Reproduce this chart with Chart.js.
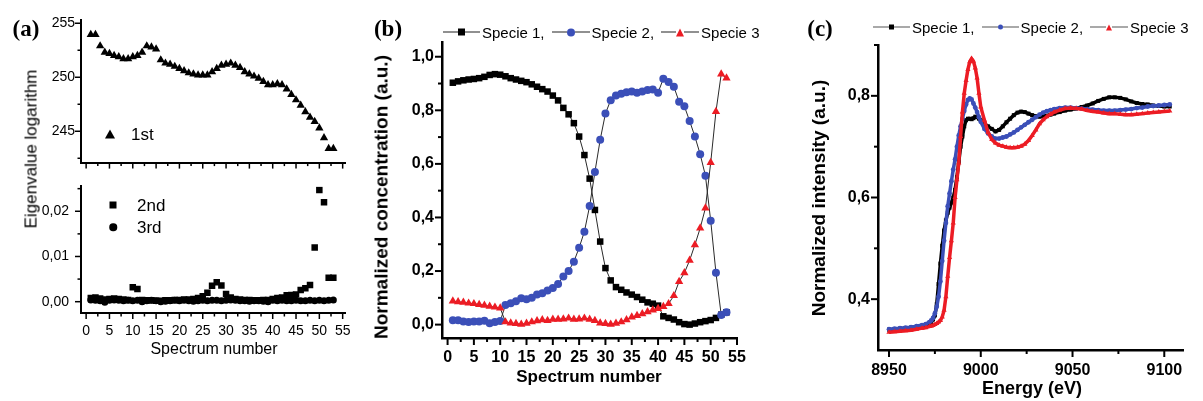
<!DOCTYPE html>
<html>
<head>
<meta charset="utf-8">
<title>PCA / MCR panels</title>
<script src="https://cdn.jsdelivr.net/npm/chart.js@4/dist/chart.umd.min.js"></script>
<style>
  html, body { margin: 0; padding: 0; background: #fff; }
  #page { position: relative; width: 1203px; height: 401px; overflow: hidden; font-family: 'Liberation Sans', Arial, sans-serif; color: #000; }
  canvas { position: absolute; }
  .txt { position: absolute; white-space: nowrap; line-height: 1; }
  .ct { transform: translate(-50%, -50%); }
  .vt { transform: translate(-50%, -50%) rotate(-90deg); }
  .panel { font-family: 'Liberation Serif', 'Times New Roman', serif; font-weight: bold; font-size: 23px; }
  .legend { position: absolute; display: flex; align-items: center; font-size: 15px; line-height: 1; white-space: nowrap; transform: translateY(-50%); }
  .sym { display: inline-flex; align-items: center; margin-right: 2px; }
  .dash { display: inline-block; width: 13px; height: 1px; }
  .mk { display: inline-block; flex: none; }
</style>
</head>
<body>
<div id="page">
  <canvas id="chartA1" width="360" height="172" style="left:0;top:0"></canvas>
  <canvas id="chartA2" width="360" height="180" style="left:0;top:172px"></canvas>
  <canvas id="chartB" width="370" height="372" style="left:390px;top:0"></canvas>
  <canvas id="chartC" width="373" height="380" style="left:830px;top:0"></canvas>

  <div class="txt panel ct" style="left:26px;top:28px">(a)</div>
  <div class="txt panel ct" style="left:388px;top:28px">(b)</div>
  <div class="txt panel ct" style="left:820px;top:28px">(c)</div>

  <div class="txt ct" style="left:214px;top:349px;font-size:16px">Spectrum number</div>
  <div class="txt vt" style="left:31px;top:149px;font-size:17px">Eigenvalue logarithm</div>

  <div class="txt ct" style="left:589px;top:376px;font-size:17px;font-weight:bold">Spectrum number</div>
  <div class="txt vt" style="left:381px;top:197px;font-size:19px;font-weight:bold">Normalized concentration (a.u.)</div>

  <div class="txt ct" style="left:1032px;top:388px;font-size:18px;font-weight:bold">Energy (eV)</div>
  <div class="txt vt" style="left:818px;top:198px;font-size:19px;font-weight:bold">Normalized intensity (a.u.)</div>

  <div id="legendA"></div>
  <div class="legend" id="legendB" style="left:443px;top:32px"></div>
  <div class="legend" id="legendC" style="left:873px;top:27px"></div>
</div>

<script>
// ---- data ----
const spectrumNumbers = [1, 2, 3, 4, 5, 6, 7, 8, 9, 10, 11, 12, 13, 14, 15, 16, 17, 18, 19, 20,
  21, 22, 23, 24, 25, 26, 27, 28, 29, 30, 31, 32, 33, 34, 35, 36, 37, 38, 39, 40,
  41, 42, 43, 44, 45, 46, 47, 48, 49, 50, 51, 52, 53]

// (a) eigenvalues
const eig1st = [253.96, 253.96, 252.9, 252.3, 252.2, 252.0, 251.9, 251.7, 251.7, 251.9,
  252.0, 252.3, 252.9, 252.8, 252.6, 251.6, 251.3, 251.2, 251.0, 250.8,
  250.6, 250.4, 250.3, 250.2, 250.2, 250.2, 250.5, 250.8, 251.1, 251.2,
  251.3, 251.1, 250.9, 250.5, 250.3, 250.1, 249.9, 249.6, 249.3, 249.3,
  249.4, 249.3, 248.9, 248.4, 247.9, 247.4, 246.8, 246.3, 245.9, 245.3,
  244.4, 243.4, 243.4]
const eig2nd = [0.0008, 0.0009, 0.0007, 0.0005, 0.0006, 0.0007, 0.0006, 0.0005, 0.0004, 0.0032,
  0.0028, 0.0004, 0.0003, 0.0003, 0.0002, 0.0002, 0.0003, 0.0003, 0.0004, 0.0004,
  0.0005, 0.0005, 0.0006, 0.0008, 0.0012, 0.0020, 0.0035, 0.0043, 0.0036, 0.0017,
  0.0009, 0.0006, 0.0005, 0.0004, 0.0004, 0.0003, 0.0003, 0.0004, 0.0004, 0.0006,
  0.0008, 0.0009, 0.0014, 0.0015, 0.0016, 0.0026, 0.0030, 0.0037, 0.0120, 0.0247,
  0.0220, 0.0053, 0.0053]
const eig3rd = [0.0004, 0.0003, 0.0002, -0.0001, 0.0003, 0.0004, 0.0003, 0.0002, 0.0003, 0.0002,
  0.0003, 0.0000, 0.0002, 0.0003, 0.0002, 0.0000, 0.0001, 0.0002, 0.0003, 0.0002,
  0.0003, 0.0002, 0.0001, 0.0002, 0.0003, 0.0002, 0.0003, 0.0003, 0.0002, 0.0003,
  0.0004, 0.0003, 0.0002, 0.0002, 0.0001, 0.0002, 0.0002, 0.0001, 0.0000, 0.0003,
  0.0002, 0.0003, 0.0002, 0.0002, 0.0003, 0.0002, 0.0002, 0.0003, 0.0002, 0.0003,
  0.0002, 0.0003, 0.0004]

// (b) normalized concentrations
const specie1Conc = [0.903, 0.908, 0.912, 0.915, 0.917, 0.920, 0.925, 0.932, 0.935, 0.933,
  0.927, 0.920, 0.915, 0.910, 0.905, 0.897, 0.888, 0.879, 0.870, 0.855,
  0.837, 0.809, 0.785, 0.752, 0.702, 0.633, 0.545, 0.428, 0.310, 0.211,
  0.165, 0.140, 0.130, 0.120, 0.112, 0.103, 0.093, 0.083, 0.078, 0.071,
  0.031, 0.025, 0.019, 0.009, 0.002, 0.000, 0.004, 0.009, 0.013, 0.017,
  0.025, 0.037, 0.046]
const specie2Conc = [0.016, 0.016, 0.012, 0.010, 0.012, 0.012, 0.014, 0.005, 0.010, 0.013,
  0.073, 0.080, 0.087, 0.098, 0.095, 0.100, 0.112, 0.117, 0.127, 0.137,
  0.152, 0.180, 0.200, 0.235, 0.287, 0.347, 0.443, 0.570, 0.690, 0.788,
  0.838, 0.855, 0.862, 0.867, 0.870, 0.866, 0.870, 0.876, 0.878, 0.866,
  0.918, 0.906, 0.888, 0.832, 0.815, 0.760, 0.702, 0.636, 0.556, 0.388,
  0.194, 0.036, 0.046]
const specie3Conc = [0.088, 0.085, 0.083, 0.080, 0.078, 0.075, 0.072, 0.068, 0.065, 0.062,
  0.010, 0.006, 0.004, 0.001, 0.005, 0.010, 0.014, 0.018, 0.015, 0.020,
  0.020, 0.021, 0.024, 0.020, 0.021, 0.024, 0.020, 0.015, 0.006, 0.004,
  0.001, 0.005, 0.010, 0.018, 0.028, 0.034, 0.040, 0.048, 0.054, 0.060,
  0.067, 0.078, 0.108, 0.161, 0.193, 0.240, 0.298, 0.360, 0.435, 0.605,
  0.795, 0.935, 0.920]

// (c) spectra
const energyEv = [8950, 8953, 8956, 8959, 8962, 8965, 8968, 8970,
  8972, 8973, 8974, 8975, 8976, 8977, 8978, 8979, 8980, 8981, 8982, 8983, 8984, 8985,
  8986, 8987, 8988, 8989, 8990, 8991, 8992, 8993, 8994, 8995, 8996, 8997, 8998, 8999,
  9000, 9002, 9004, 9006, 9008, 9010, 9012, 9014, 9016, 9018, 9020, 9022, 9024, 9026,
  9028, 9030, 9032, 9034, 9036, 9038, 9040, 9043, 9046, 9049, 9052, 9055, 9058, 9061,
  9064, 9067, 9070, 9073, 9076, 9079, 9082, 9085, 9088, 9091, 9094, 9097, 9100, 9103]
const specie1Abs = [0.340, 0.341, 0.342, 0.343, 0.344, 0.345, 0.347, 0.349,
  0.352, 0.355, 0.360, 0.368, 0.390, 0.430, 0.470, 0.505, 0.535, 0.555, 0.570, 0.580, 0.590, 0.600,
  0.615, 0.640, 0.670, 0.700, 0.720, 0.740, 0.752, 0.755, 0.755, 0.754, 0.756, 0.759, 0.758, 0.755,
  0.752, 0.745, 0.740, 0.735, 0.730, 0.733, 0.740, 0.748, 0.755, 0.762, 0.767, 0.769, 0.768, 0.765,
  0.762, 0.760, 0.759, 0.760, 0.761, 0.763, 0.765, 0.768, 0.771, 0.773, 0.775, 0.778, 0.781, 0.785,
  0.790, 0.794, 0.797, 0.797, 0.796, 0.793, 0.789, 0.786, 0.784, 0.783, 0.781, 0.780, 0.779, 0.779]
const specie2Abs = [0.341, 0.342, 0.343, 0.344, 0.345, 0.347, 0.349, 0.351,
  0.355, 0.358, 0.363, 0.372, 0.385, 0.405, 0.435, 0.475, 0.515, 0.550, 0.583, 0.608, 0.632, 0.655,
  0.675, 0.700, 0.722, 0.740, 0.755, 0.770, 0.783, 0.792, 0.795, 0.793, 0.785, 0.777, 0.768, 0.758,
  0.749, 0.735, 0.726, 0.720, 0.716, 0.716, 0.718, 0.720, 0.724, 0.728, 0.733, 0.738, 0.743, 0.748,
  0.753, 0.758, 0.763, 0.767, 0.770, 0.772, 0.774, 0.776, 0.777, 0.777, 0.776, 0.775, 0.774, 0.773,
  0.772, 0.771, 0.771, 0.771, 0.772, 0.773, 0.774, 0.776, 0.777, 0.779, 0.780, 0.781, 0.782, 0.783]
const specie3Abs = [0.335, 0.336, 0.337, 0.338, 0.339, 0.341, 0.343, 0.344,
  0.346, 0.347, 0.348, 0.350, 0.352, 0.355, 0.358, 0.365, 0.378, 0.405, 0.445, 0.482, 0.515, 0.550,
  0.600, 0.635, 0.668, 0.720, 0.768, 0.805, 0.830, 0.852, 0.867, 0.873, 0.868, 0.855, 0.835, 0.805,
  0.778, 0.752, 0.728, 0.714, 0.707, 0.703, 0.701, 0.699, 0.698, 0.698, 0.699, 0.701, 0.705, 0.712,
  0.722, 0.733, 0.745, 0.753, 0.759, 0.764, 0.768, 0.772, 0.775, 0.776, 0.775, 0.774, 0.771, 0.769,
  0.768, 0.766, 0.765, 0.765, 0.764, 0.763, 0.763, 0.764, 0.765, 0.766, 0.767, 0.768, 0.769, 0.770]

// ---- tick values ----
const spectrumTicks = [0, 5, 10, 15, 20, 25, 30, 35, 40, 45, 50, 55]
const spectrumMinor = [2.5, 7.5, 12.5, 17.5, 22.5, 27.5, 32.5, 37.5, 42.5, 47.5, 52.5]
const eigTopTicks = [245, 250, 255]
const eigTopMinor = [242.5, 247.5, 252.5]
const eigLowTicks = [0, 0.01, 0.02]
const eigLowMinor = [0.005, 0.015, 0.025]
const concTicks = [0, 0.2, 0.4, 0.6, 0.8, 1.0]
const concMinor = [0.1, 0.3, 0.5, 0.7, 0.9]
const energyTicks = [8950, 9000, 9050, 9100]
const energyMinor = [8975, 9025, 9075]
const intensityTicks = [0.4, 0.6, 0.8]
const intensityMinor = [0.5, 0.7, 0.9]

const speciesNames = ['Specie 1', 'Specie 2', 'Specie 3']
const speciesColors = ['#000000', '#3b4fb8', '#ec1c24']
const speciesMarkers = ['rect', 'circle', 'triangle']

Chart.defaults.font.family = "'Liberation Sans', Arial, sans-serif"
Chart.defaults.color = '#000'

const toPoints = (xs, ys) => xs.map((x, i) => ({ x, y: ys[i] }))
const commaFmt = digits => v => Number(v).toFixed(digits).replace('.', ',')

// outward tick marks, major and minor
function tickMarks(spec) {
  return {
    id: 'tickMarks',
    afterDraw(chart) {
      const ctx = chart.ctx
      ctx.save()
      ctx.strokeStyle = '#000'
      for (const [id, s] of Object.entries(spec)) {
        const scale = chart.scales[id]
        ctx.lineWidth = s.width
        const draw = (values, len) => values.forEach(v => {
          ctx.beginPath()
          if (scale.isHorizontal()) {
            const px = scale.getPixelForValue(v)
            ctx.moveTo(px, scale.top)
            ctx.lineTo(px, scale.top + len)
          } else {
            const py = scale.getPixelForValue(v)
            ctx.moveTo(scale.right, py)
            ctx.lineTo(scale.right - len, py)
          }
          ctx.stroke()
        })
        draw(s.major, s.majorLen)
        draw(s.minor, s.minorLen)
      }
      ctx.restore()
    }
  }
}

function axis(o) {
  return {
    type: 'linear',
    min: o.min,
    max: o.max,
    afterBuildTicks: s => { s.ticks = o.ticks.map(v => ({ value: v })) },
    afterFit: s => {
      if (o.width != null) s.width = o.width
      if (o.height != null) s.height = o.height
    },
    ticks: {
      display: o.labels !== false,
      autoSkip: false,
      maxRotation: 0,
      color: '#000',
      font: o.font,
      padding: o.pad || 0,
      callback: o.fmt || (v => v)
    },
    grid: { display: false, drawTicks: true, tickLength: o.tl || 0 },
    border: { display: true, color: '#000', width: o.bw }
  }
}

const baseOptions = (padding) => ({
  responsive: false,
  animation: false,
  layout: { padding },
  plugins: { legend: { display: false }, tooltip: { enabled: false } }
})

// ---- (a) upper: first eigenvalue ----
const fontA = { size: 14 }
new Chart(document.getElementById('chartA1'), {
  type: 'scatter',
  data: {
    datasets: [{
      data: toPoints(spectrumNumbers, eig1st),
      pointStyle: 'triangle', pointRadius: 4.8,
      backgroundColor: '#000', borderColor: '#000', borderWidth: 0
    }]
  },
  options: {
    ...baseOptions({ top: 20, right: 15, left: 0, bottom: 0 }),
    scales: {
      x: axis({ min: -1.1, max: 55.5, ticks: spectrumTicks, height: 5, labels: false, bw: 2 }),
      y: axis({ min: 242.1, max: 255.3, ticks: eigTopTicks, width: 81, font: fontA, tl: 5, pad: 1, bw: 2 })
    }
  },
  plugins: [tickMarks({
    x: { major: spectrumTicks, minor: spectrumMinor, majorLen: 6, minorLen: 3.5, width: 1.5 },
    y: { major: eigTopTicks, minor: eigTopMinor, majorLen: 6, minorLen: 3.5, width: 1.5 }
  })]
})

// ---- (a) lower: 2nd and 3rd eigenvalues ----
new Chart(document.getElementById('chartA2'), {
  type: 'scatter',
  data: {
    datasets: [{
      data: toPoints(spectrumNumbers, eig2nd),
      pointStyle: 'rect', pointRadius: 4.6,
      backgroundColor: '#000', borderColor: '#000', borderWidth: 0
    }, {
      data: toPoints(spectrumNumbers, eig3rd),
      pointStyle: 'circle', pointRadius: 3.5,
      backgroundColor: '#000', borderColor: '#000', borderWidth: 0
    }]
  },
  options: {
    ...baseOptions({ top: 6, right: 15, left: 0, bottom: 0 }),
    scales: {
      x: axis({ min: -1.1, max: 55.5, ticks: spectrumTicks, height: 39, font: fontA, tl: 6, pad: 4, bw: 2 }),
      y: axis({ min: -0.0025, max: 0.0255, ticks: eigLowTicks, width: 81, font: fontA, tl: 6, pad: 6, bw: 2, fmt: commaFmt(2) })
    }
  },
  plugins: [tickMarks({
    x: { major: spectrumTicks, minor: spectrumMinor, majorLen: 6, minorLen: 3.5, width: 1.5 },
    y: { major: eigLowTicks, minor: eigLowMinor, majorLen: 6, minorLen: 3.5, width: 1.5 }
  })]
})

// ---- (b) concentrations ----
const concSeries = [specie1Conc, specie2Conc, specie3Conc]
const fontB = { size: 16, weight: 'bold' }
new Chart(document.getElementById('chartB'), {
  type: 'scatter',
  data: {
    datasets: concSeries.map((vals, i) => ({
      label: speciesNames[i],
      data: toPoints(spectrumNumbers, vals),
      showLine: true,
      borderColor: '#2a2a2a',
      borderWidth: 1,
      pointStyle: speciesMarkers[i],
      pointRadius: [4.6, 4, 4.8][i],
      pointBackgroundColor: speciesColors[i],
      pointBorderColor: speciesColors[i],
      pointBorderWidth: 0,
      order: 2 - i
    }))
  },
  options: {
    ...baseOptions({ top: 42, right: 23, left: 0, bottom: 0 }),
    scales: {
      x: axis({ min: -1.06, max: 55, ticks: spectrumTicks, height: 34, font: fontB, tl: 7, pad: 3, bw: 2.5 }),
      y: axis({ min: -0.05, max: 1.055, ticks: concTicks, width: 52, font: fontB, tl: 6, pad: 2, bw: 2.5, fmt: commaFmt(1) })
    }
  },
  plugins: [tickMarks({
    x: { major: spectrumTicks, minor: spectrumMinor, majorLen: 7, minorLen: 4, width: 2 },
    y: { major: concTicks, minor: concMinor, majorLen: 7, minorLen: 4, width: 2 }
  })]
})

// ---- (c) spectra ----
const absSeries = [specie1Abs, specie2Abs, specie3Abs]
const fontC = { size: 16, weight: 'bold' }
new Chart(document.getElementById('chartC'), {
  type: 'scatter',
  data: {
    datasets: absSeries.map((vals, i) => ({
      label: speciesNames[i],
      data: toPoints(energyEv, vals),
      showLine: true,
      borderColor: speciesColors[i],
      borderWidth: 3.5,
      pointStyle: speciesMarkers[i],
      pointRadius: [2.8, 2.4, 3][i],
      pointBackgroundColor: speciesColors[i],
      pointBorderColor: speciesColors[i],
      pointBorderWidth: 0,
      order: 2 - i
    }))
  },
  options: {
    ...baseOptions({ top: 45, right: 20, left: 0, bottom: 0 }),
    scales: {
      x: axis({ min: 8944, max: 9110.2, ticks: energyTicks, height: 30, font: fontC, tl: 6, pad: 5, bw: 2.5 }),
      y: axis({ min: 0.3, max: 0.9, ticks: intensityTicks, width: 48, font: fontC, tl: 7, pad: 1, bw: 2.5, fmt: commaFmt(1) })
    }
  },
  plugins: [tickMarks({
    x: { major: energyTicks, minor: energyMinor, majorLen: 7, minorLen: 4, width: 2 },
    y: { major: intensityTicks, minor: intensityMinor, majorLen: 7, minorLen: 4, width: 2 }
  })]
})

// ---- legends ----
function markerEl(kind, color, size) {
  const el = document.createElement('span')
  el.className = 'mk'
  if (kind === 'triangle') {
    el.style.width = '0'
    el.style.height = '0'
    el.style.borderLeft = (size * 0.6) + 'px solid transparent'
    el.style.borderRight = (size * 0.6) + 'px solid transparent'
    el.style.borderBottom = size + 'px solid ' + color
  } else {
    el.style.width = size + 'px'
    el.style.height = size + 'px'
    el.style.background = color
    if (kind === 'circle') el.style.borderRadius = '50%'
  }
  return el
}

function buildLegend(box, sizes, dashColor, dashWidth) {
  speciesNames.forEach((name, i) => {
    const sym = document.createElement('span')
    sym.className = 'sym'
    const d1 = document.createElement('span')
    d1.className = 'dash'
    d1.style.background = dashColor
    d1.style.width = dashWidth + 'px'
    const d2 = d1.cloneNode()
    sym.appendChild(d1)
    sym.appendChild(markerEl(speciesMarkers[i], speciesColors[i], sizes[i]))
    sym.appendChild(d2)
    box.appendChild(sym)
    const t = document.createElement('span')
    t.textContent = name + (i < speciesNames.length - 1 ? ',' : '')
    t.style.marginRight = i < speciesNames.length - 1 ? '7px' : '0'
    box.appendChild(t)
  })
}
buildLegend(document.getElementById('legendB'), [7, 8, 8], '#222', 15)
buildLegend(document.getElementById('legendC'), [5, 5, 6], '#555', 16)

// (a) legend entries
const legendA = document.getElementById('legendA')
;[['triangle', '1st', 110, 134, 131, 9], ['rect', '2nd', 113, 205, 137, 7], ['circle', '3rd', 113, 227, 137, 7.5]]
  .forEach(([kind, label, mx, my, tx, size]) => {
    const m = markerEl(kind, '#000', size)
    m.style.position = 'absolute'
    m.style.left = mx + 'px'
    m.style.top = my + 'px'
    m.style.transform = 'translate(-50%, -50%)'
    legendA.appendChild(m)
    const t = document.createElement('div')
    t.className = 'txt'
    t.style.left = tx + 'px'
    t.style.top = my + 'px'
    t.style.fontSize = '17px'
    t.style.transform = 'translateY(-50%)'
    t.textContent = label
    legendA.appendChild(t)
  })
</script>
</body>
</html>
